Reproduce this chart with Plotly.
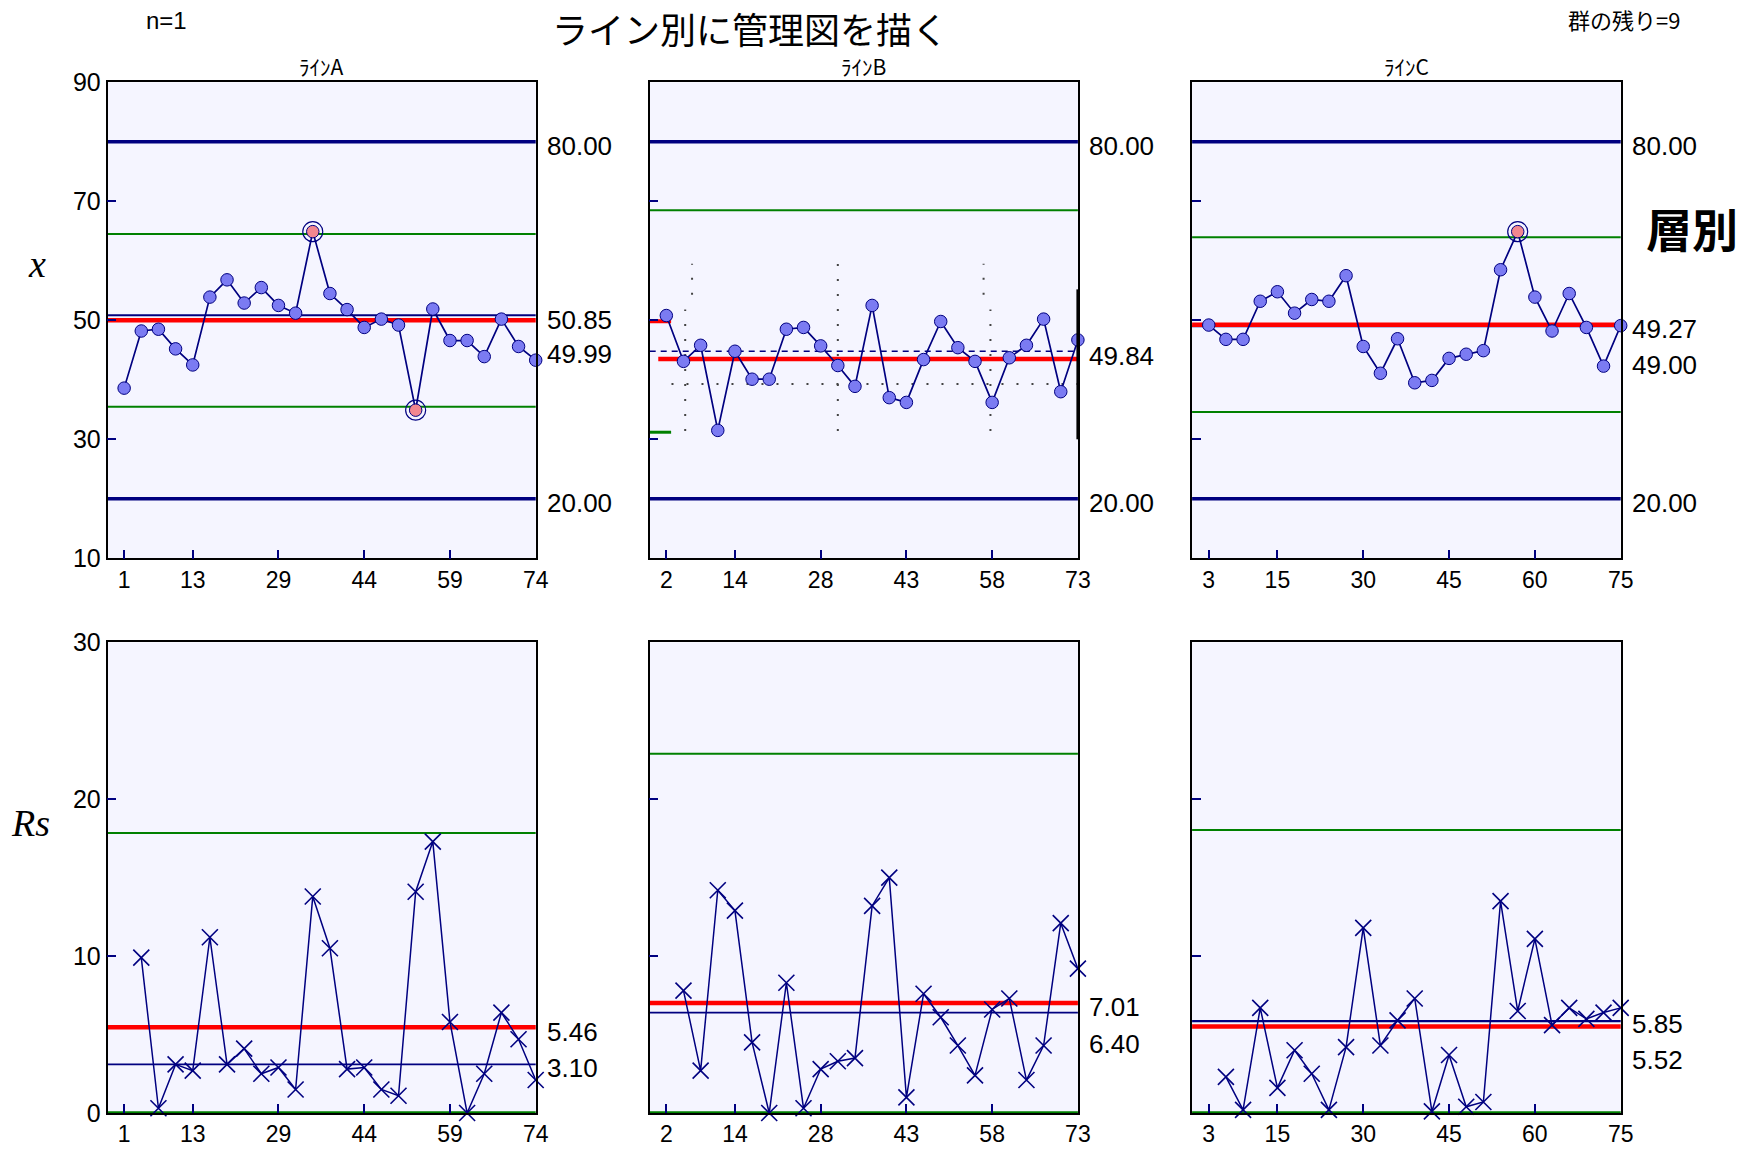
import plotly.graph_objects as go

W, H = 1755, 1149

# ---------------- data ----------------
panel_titles = ["ﾗｲﾝA", "ﾗｲﾝB", "ﾗｲﾝC"]
tick_index = [0, 4, 9, 14, 19, 24]
tick_labels = [
    ["1", "13", "29", "44", "59", "74"],
    ["2", "14", "28", "43", "58", "73"],
    ["3", "15", "30", "45", "60", "75"],
]

xbar_A = [38.6, 48.2, 48.5, 45.2, 42.5, 53.9, 56.8, 52.9, 55.5, 52.5, 51.2, 64.9, 54.5,
          51.8, 48.8, 50.2, 49.2, 34.9, 51.9, 46.6, 46.6, 43.9, 50.2, 45.6, 43.3]
xbar_B = [50.8, 43.1, 45.8, 31.5, 44.8, 40.1, 40.1, 48.5, 48.8, 45.7, 42.4, 38.9, 52.5,
          37.0, 36.2, 43.4, 49.8, 45.4, 43.1, 36.2, 43.7, 45.8, 50.2, 38.0, 46.7]
xbar_C = [49.2, 46.8, 46.8, 53.2, 54.8, 51.2, 53.5, 53.2, 57.5, 45.6, 41.1, 46.9, 39.5,
          39.9, 43.6, 44.3, 44.9, 58.5, 64.9, 53.9, 48.2, 54.5, 48.8, 42.3, 49.1]

rs_A = [None, 9.9, 0.3, 3.1, 2.7, 11.2, 3.1, 4.1, 2.5, 2.9, 1.5, 13.8, 10.5,
        2.8, 2.9, 1.5, 1.1, 14.1, 17.3, 5.8, 0.0, 2.5, 6.4, 4.7, 2.1]
rs_B = [None, 7.8, 2.7, 14.2, 12.9, 4.5, 0.0, 8.3, 0.3, 2.8, 3.3, 3.5, 13.2,
        15.0, 1.0, 7.6, 6.1, 4.3, 2.4, 6.6, 7.3, 2.1, 4.3, 12.1, 9.2]
rs_C = [None, 2.3, 0.2, 6.7, 1.6, 4.0, 2.5, 0.2, 4.2, 11.8, 4.3, 5.9, 7.3,
        0.1, 3.7, 0.4, 0.7, 13.5, 6.5, 11.1, 5.6, 6.7, 6.0, 6.4, 6.7]

xbar_series = [xbar_A, xbar_B, xbar_C]
rs_series = [rs_A, rs_B, rs_C]

spec_upper = 80.0
spec_lower = 20.0
x_cl = [49.99, 49.84, 49.27]          # centre line (mean)
x_med = [50.85, 44.8, 49.00]          # median line
x_ucl = [64.51, 68.49, 63.95]
x_lcl = [35.47, 31.19, 34.59]
b_redraw_mean = 43.5                  # line B: centre line as redrawn across the plot
rs_cl = [5.46, 7.01, 5.52]
rs_med = [3.10, 6.40, 5.85]
rs_ucl = [17.84, 22.90, 18.03]
rs_lcl = [0.0, 0.0, 0.0]

# dotted guide remnants on line B: (x0, x1, y0, y1)
b_guides = [
    (1.5, 1.5, 54.3, 59.5), (1.1, 1.1, 31.4, 51.8),
    (10.0, 10.0, 31.4, 59.5),
    (18.5, 18.5, 54.3, 59.5), (18.9, 18.9, 31.4, 51.8),
    (0.3, 24.0, 39.3, 39.3),
]

# value labels: (value, vertical offset in px)
top_labels = [
    [(spec_upper, -4), (x_med[0], -5), (x_cl[0], -34), (spec_lower, -4)],
    [(spec_upper, -4), (x_cl[1], -35), (spec_lower, -4)],
    [(spec_upper, -4), (x_cl[2], -4), (x_med[2], -39), (spec_lower, -4)],
]
bottom_labels = [
    [(rs_cl[0], -5), (rs_med[0], -4)],
    [(rs_cl[1], -4), (rs_med[1], -31)],
    [(rs_med[2], -3), (rs_cl[2], -34)],
]

# ---------------- styling ----------------
NAVY = "#000080"
GREEN = "#008000"
RED = "#FF0000"
PT_FILL = "#7B7BF2"
PT_OUT = "#F2878F"
BG = "#F5F5FF"
NUM_FONT = "Liberation Sans Narrow, Liberation Sans, Arial, sans-serif"
JP_FONT = "Noto Sans CJK JP, sans-serif"

col_px = [(107.5, 535.7), (649.7, 1077.9), (1192.1, 1620.7)]
row_px = [(82.3, 558.3), (642.3, 1113.0)]

fig = go.Figure()
shapes = []
annotations = []
layout_axes = {}


def axname(k):
    return "" if k == 0 else str(k + 1)


def hline(k, y, color, width, dash="solid", x0=0.0, x1=1.0):
    n = axname(k)
    shapes.append(dict(type="line", xref=f"x{n} domain", yref=f"y{n}",
                       x0=x0, x1=x1, y0=y, y1=y, layer="below",
                       line=dict(color=color, width=width, dash=dash)))


for row in range(2):
    for col in range(3):
        k = row * 3 + col
        n = axname(k)
        xa = "xaxis" + n
        ya = "yaxis" + n
        x0p, x1p = col_px[col]
        y0p, y1p = row_px[row]
        layout_axes[xa] = dict(
            domain=[x0p / W, x1p / W], anchor="y" + n, automargin=False,
            range=[-0.97, 24], tickmode="array", tickvals=tick_index,
            ticktext=tick_labels[col], ticks="inside", ticklen=9, tickwidth=2,
            tickcolor=NAVY, showgrid=False, zeroline=False,
            showline=True, linecolor="black", linewidth=1.5, mirror=True,
            tickfont=dict(family=NUM_FONT, size=23, color="black"),
            fixedrange=True,
        )
        if row == 0:
            yr, yt = [10, 90], [10, 30, 50, 70, 90]
        else:
            yr, yt = [0, 30], [0, 10, 20, 30]
        layout_axes[ya] = dict(
            domain=[1 - y1p / H, 1 - y0p / H], anchor="x" + n, automargin=False,
            range=yr, tickmode="array", tickvals=yt,
            ticks="inside", ticklen=9, tickwidth=2, tickcolor=NAVY,
            showticklabels=(col == 0), showgrid=False, zeroline=False,
            showline=True, linecolor="black", linewidth=1.5, mirror=True,
            tickfont=dict(family=NUM_FONT, size=25, color="black"),
            fixedrange=True,
        )

        idx = list(range(25))
        if row == 0:
            ys = xbar_series[col]
            # control lines
            hline(k, spec_upper, NAVY, 3.5)
            hline(k, spec_lower, NAVY, 3.5)
            hline(k, x_ucl[col], GREEN, 2)
            if col == 1:
                hline(k, x_lcl[col], GREEN, 3, x0=0, x1=0.05)
                for gx0, gx1, gy0, gy1 in b_guides:
                    shapes.append(dict(type="line", xref="x2", yref="y2",
                                       x0=gx0, x1=gx1, y0=gy0, y1=gy1, layer="below",
                                       line=dict(color="#444444", width=2, dash="2px,13px")))
                hline(k, x_med[col], NAVY, 1.6, dash="6px,5px")
                hline(k, b_redraw_mean, RED, 4.5, x0=0.02)
                hline(k, x_cl[col], RED, 4, x0=0, x1=0.05)
                shapes.append(dict(type="line", xref="x2 domain", yref="y2",
                                   x0=1, x1=1, y0=30, y1=55.2, layer="above",
                                   line=dict(color="black", width=3)))
            else:
                hline(k, x_lcl[col], GREEN, 2)
                hline(k, x_med[col], NAVY, 1.8)
                hline(k, x_cl[col], RED, 4.5)

            out = [i for i, v in enumerate(ys) if v > x_ucl[col] or v < x_lcl[col]]
            fills = [PT_OUT if i in out else PT_FILL for i in idx]
            fig.add_trace(go.Scatter(
                x=idx, y=ys, mode="lines+markers", xaxis="x" + n, yaxis="y" + n,
                line=dict(color=NAVY, width=1.7),
                marker=dict(symbol="circle", size=12.5, color=fills,
                            line=dict(color=NAVY, width=1)),
                cliponaxis=False, showlegend=False, hoverinfo="x+y"))
            if out:
                fig.add_trace(go.Scatter(
                    x=out, y=[ys[i] for i in out], mode="markers",
                    xaxis="x" + n, yaxis="y" + n,
                    marker=dict(symbol="circle-open", size=20,
                                line=dict(color=NAVY, width=1.2), color=NAVY),
                    cliponaxis=False, showlegend=False, hoverinfo="skip"))
            labels = top_labels[col]
        else:
            ys = rs_series[col]
            hline(k, rs_ucl[col], GREEN, 2)
            hline(k, rs_lcl[col], GREEN, 3.5)
            if rs_med[col] > rs_cl[col]:
                hline(k, rs_cl[col], RED, 4.5)
                hline(k, rs_med[col], NAVY, 2.2)
            else:
                hline(k, rs_med[col], NAVY, 1.8)
                hline(k, rs_cl[col], RED, 4.5)
            fig.add_trace(go.Scatter(
                x=idx, y=ys, mode="lines+markers", xaxis="x" + n, yaxis="y" + n,
                line=dict(color=NAVY, width=1.5),
                marker=dict(symbol="x-thin", size=16, color=NAVY,
                            line=dict(color=NAVY, width=1.6)),
                connectgaps=False, cliponaxis=False, showlegend=False,
                hoverinfo="x+y"))
            labels = bottom_labels[col]

        for val, shift in labels:
            annotations.append(dict(
                xref=f"x{n} domain", yref=f"y{n}", x=1, y=val,
                xanchor="left", yanchor="middle", xshift=9, yshift=shift,
                text=f"{val:.2f}", showarrow=False,
                font=dict(family=NUM_FONT, size=26, color="black")))

        if row == 0:
            annotations.append(dict(
                xref=f"x{n} domain", yref=f"y{n} domain", x=0.5, y=1,
                xanchor="center", yanchor="bottom", yshift=-1,
                text=panel_titles[col], showarrow=False,
                font=dict(family=JP_FONT, size=21, color="black")))

# page texts
annotations += [
    dict(xref="paper", yref="paper", x=750 / W, y=1, xanchor="center",
         yanchor="top", text="ライン別に管理図を描く", showarrow=False,
         font=dict(family=JP_FONT, size=36, color="black")),
    dict(xref="paper", yref="paper", x=166 / W, y=1 - 21 / H, xanchor="center",
         yanchor="middle", text="n=1", showarrow=False,
         font=dict(family=NUM_FONT, size=24, color="black")),
    dict(xref="paper", yref="paper", x=1624 / W, y=1 - 19 / H, xanchor="center",
         yanchor="middle", text="群の残り=9", showarrow=False,
         font=dict(family=JP_FONT, size=22, color="black")),
    dict(xref="paper", yref="paper", x=37 / W, y=1 - 264 / H, xanchor="center",
         yanchor="middle", text="<i>x</i>", showarrow=False,
         font=dict(family="Liberation Serif, DejaVu Serif, serif", size=38, color="black")),
    dict(xref="paper", yref="paper", x=31 / W, y=1 - 823 / H, xanchor="center",
         yanchor="middle", text="<i>Rs</i>", showarrow=False,
         font=dict(family="Liberation Serif, DejaVu Serif, serif", size=38, color="black")),
    dict(xref="paper", yref="paper", x=1692 / W, y=1 - 227 / H, xanchor="center",
         yanchor="middle", text="<b>層別</b>", showarrow=False,
         font=dict(family=JP_FONT, size=46, color="black")),
]

fig.update_layout(
    width=W, height=H,
    margin=dict(l=0, r=0, t=0, b=0, autoexpand=False),
    paper_bgcolor="white", plot_bgcolor=BG,
    shapes=shapes, annotations=annotations,
    showlegend=False,
    **layout_axes,
)

fig.write_html("out.html", config={"displayModeBar": False})
